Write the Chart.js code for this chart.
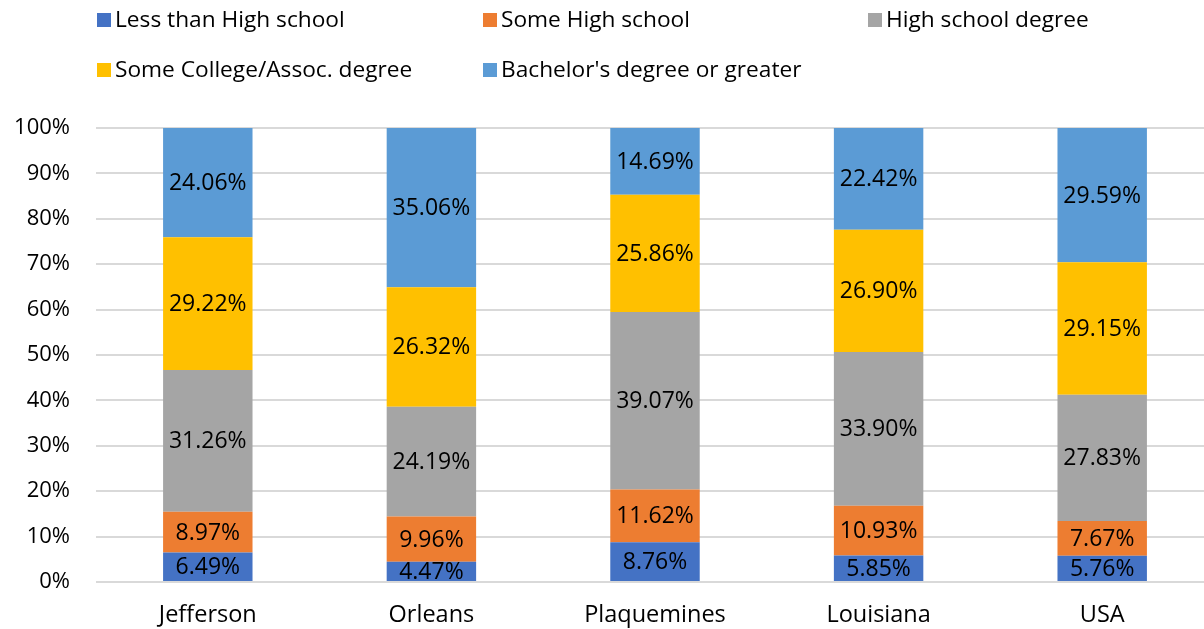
<!DOCTYPE html>
<html>
<head>
<meta charset="utf-8">
<script src="https://cdn.jsdelivr.net/npm/chart.js@4/dist/chart.umd.min.js"></script>
<style>
  html, body { margin: 0; padding: 0; background: #fff; overflow: hidden; }
  #wrap { position: relative; width: 1214px; height: 629px; }
</style>
</head>
<body>
<div id="wrap"><canvas id="chart"></canvas></div>
<script>
// Educational attainment shares by area (percent)
const categories = ['Jefferson', 'Orleans', 'Plaquemines', 'Louisiana', 'USA'];
const lessThanHighSchool = [6.49, 4.47, 8.76, 5.85, 5.76];
const someHighSchool     = [8.97, 9.96, 11.62, 10.93, 7.67];
const highSchoolDegree   = [31.26, 24.19, 39.07, 33.90, 27.83];
const someCollege        = [29.22, 26.32, 25.86, 26.90, 29.15];
const bachelorsOrGreater = [24.06, 35.06, 14.69, 22.42, 29.59];
const seriesNames = ['Less than High school', 'Some High school', 'High school degree',
                     'Some College/Assoc. degree', "Bachelor's degree or greater"];
const yTicks = [0, 10, 20, 30, 40, 50, 60, 70, 80, 90, 100];

const colors = ['#4472C4', '#ED7D31', '#A5A5A5', '#FFC000', '#5B9BD5'];
const FONT = "'Open Sans', sans-serif";
const seriesValues = [lessThanHighSchool, someHighSchool, highSchoolDegree, someCollege, bachelorsOrGreater];

const datasets = seriesValues.map((vals, i) => ({
  label: seriesNames[i],
  data: vals,
  backgroundColor: colors[i],
  borderWidth: 0,
  barPercentage: 0.4,
  categoryPercentage: 1.0
}));

// Value labels centred inside each stacked segment
const segmentLabels = {
  id: 'segmentLabels',
  afterDatasetsDraw(chart) {
    const ctx = chart.ctx;
    ctx.save();
    ctx.font = '23px ' + FONT;
    ctx.fillStyle = '#000';
    ctx.textAlign = 'center';
    ctx.textBaseline = 'middle';
    chart.data.datasets.forEach((ds, di) => {
      chart.getDatasetMeta(di).data.forEach((bar, i) => {
        const y = (bar.y + bar.base) / 2;
        ctx.fillText(ds.data[i].toFixed(2) + '%', bar.x, y + 1);
      });
    });
    ctx.restore();
  }
};

// Two-row legend laid out in fixed columns
const gridLegend = {
  id: 'gridLegend',
  afterDraw(chart) {
    const ctx = chart.ctx;
    const cols = [97, 483, 868];
    const rows = [20, 70];
    ctx.save();
    ctx.font = '22.7px ' + FONT;
    ctx.textBaseline = 'middle';
    ctx.textAlign = 'left';
    chart.data.datasets.forEach((ds, i) => {
      const x = cols[i % 3];
      const y = rows[Math.floor(i / 3)];
      ctx.fillStyle = ds.backgroundColor;
      ctx.fillRect(x, y - 7, 14, 14);
      ctx.fillStyle = '#000';
      ctx.fillText(ds.label, x + 18, y + 1);
    });
    ctx.restore();
  }
};

new Chart(document.getElementById('chart'), {
  type: 'bar',
  data: { labels: categories, datasets },
  options: {
    responsive: true,
    maintainAspectRatio: false,
    animation: false,
    layout: { padding: { top: 128, left: 0, right: 0, bottom: 0 } },
    plugins: {
      legend: { display: false },
      tooltip: { enabled: false }
    },
    scales: {
      x: {
        stacked: true,
        grid: { display: false, drawTicks: false },
        border: { display: false },
        ticks: { color: '#000', font: { family: FONT, size: 23.5 }, padding: 19 },
        afterFit(scale) { scale.height = 47; }
      },
      y: {
        stacked: true,
        min: 0,
        max: 100,
        afterBuildTicks(scale) { scale.ticks = yTicks.map(v => ({ value: v })); },
        grid: { color: '#D9D9D9', lineWidth: 2, drawTicks: false },
        border: { display: false },
        ticks: {
          color: '#000',
          font: { family: FONT, size: 22 },
          padding: 26,
          callback: v => v + '%'
        },
        afterFit(scale) { scale.width = 96; }
      }
    }
  },
  plugins: [segmentLabels, gridLegend]
});
</script>
</body>
</html>
